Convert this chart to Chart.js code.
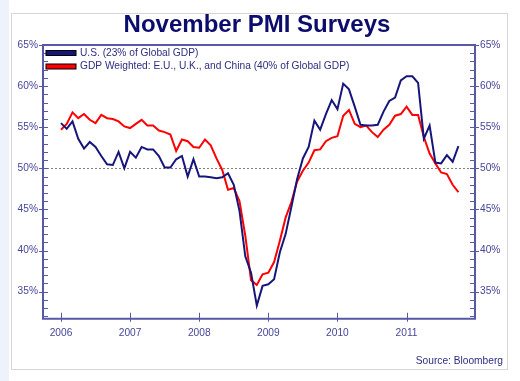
<!DOCTYPE html>
<html>
<head>
<meta charset="utf-8">
<title>November PMI Surveys</title>
<script src="https://cdn.jsdelivr.net/npm/chart.js@4.4.0/dist/chart.umd.min.js"></script>
<style>
  html, body { margin:0; padding:0; background:#ffffff; }
  #contenedor { position:relative; width:520px; height:381px; }
</style>
</head>
<body>
<div id="contenedor"><canvas id="grafica-pmi" width="520" height="381"></canvas></div>
<script>
// valores mensuales (un punto por mes desde ene 2006)
var anioInicio = 2006;
var usPMI = [
    55.5, 54.8, 55.7, 53.6, 52.4, 53.2, 52.6, 51.5, 50.5, 50.4, 52.0, 50.0,
    52.0, 51.3, 52.6, 52.3, 52.3, 51.5, 50.1, 50.1, 51.1, 51.5, 49.0, 51.1,
    49.0, 49.0, 48.9, 48.8, 48.9, 49.4, 48.0, 44.8, 39.3, 37.3, 33.3, 35.7,
    35.9, 36.5, 39.8, 42.0, 45.3, 48.7, 51.2, 52.6, 55.8, 54.7, 56.6, 58.3,
    57.2, 60.3, 59.6, 57.5, 55.3, 55.2, 55.2, 55.3, 56.9, 58.2, 58.6, 60.7,
    61.2, 61.2, 60.4, 53.6, 55.2, 50.7, 50.6, 51.6, 50.8, 52.7
];
var ponderadoPMI = [
    54.7, 55.4, 56.8, 56.1, 56.6, 55.9, 55.5, 56.5, 56.1, 56.0, 55.7, 55.1,
    54.9, 55.4, 55.9, 55.2, 55.2, 54.6, 54.4, 54.1, 52.1, 53.5, 53.3, 52.6,
    52.5, 53.5, 52.8, 51.2, 49.8, 47.4, 47.6, 46.0, 41.8, 36.4, 35.8, 37.1,
    37.3, 38.6, 41.2, 44.0, 45.9, 48.4, 49.7, 50.7, 52.2, 52.3, 53.3, 53.7,
    53.9, 56.4, 57.1, 55.4, 55.0, 55.2, 54.4, 53.8, 54.7, 55.3, 56.4, 56.6,
    57.5, 56.5, 56.5, 53.8, 51.8, 50.6, 49.5, 49.3, 48.0, 47.1
];
var etiquetasSeries = ['U.S. (23% of Global GDP)', 'GDP Weighted: E.U., U.K., and China (40% of Global GDP)'];
var coloresSeries = ['#16167a', '#ff0000'];
var anios = [2006, 2007, 2008, 2009, 2010, 2011];
var limitesX = [2005.74, 2011.99];
var limitesY = [31.7, 65];
var lineaReferencia = 50;

var colorEje = '#5858a8';
var colorTexto = '#45459a';
var fuente = "'Liberation Sans', Arial, sans-serif";
var tamTexto = 10.2;

function armarPuntos(valores){
    var puntos = [];
    for (var i = 0; i < valores.length; i++){
        puntos.push({x: anioInicio + i/12, y: valores[i]});
    }
    return puntos;
}

// fondo: franja azulada a la izquierda y recuadro blanco
var fondoPlugin = {
    id: 'fondo',
    beforeDraw: function(chart){
        var ctx = chart.ctx;
        ctx.save();
        ctx.fillStyle = '#ffffff';
        ctx.fillRect(0, 0, chart.width, chart.height);
        ctx.fillStyle = '#eef2fa';
        ctx.fillRect(0, 0, 9, chart.height);
        ctx.strokeStyle = '#d6d6d6';
        ctx.lineWidth = 1;
        ctx.strokeRect(11.5, 13.5, 496, 356);
        ctx.restore();
    }
};

// linea punteada en 50%
var referenciaPlugin = {
    id: 'referencia',
    beforeDatasetsDraw: function(chart){
        var ctx = chart.ctx;
        var area = chart.chartArea;
        var y = Math.round(chart.scales.y.getPixelForValue(lineaReferencia)) + 0.5;
        ctx.save();
        ctx.strokeStyle = '#808080';
        ctx.lineWidth = 1;
        ctx.setLineDash([2, 2]);
        ctx.beginPath();
        ctx.moveTo(area.left, y);
        ctx.lineTo(area.right, y);
        ctx.stroke();
        ctx.restore();
    }
};

// marco del area, marcas mayores/menores y la leyenda dentro del area
var marcoPlugin = {
    id: 'marco',
    afterDatasetsDraw: function(chart){
        var ctx = chart.ctx;
        var area = chart.chartArea;
        var escalaY = chart.scales.y;
        var escalaX = chart.scales.x;
        ctx.save();
        ctx.strokeStyle = colorEje;
        ctx.lineWidth = 1;
        for (var v = Math.ceil(limitesY[0]); v <= limitesY[1]; v++){
            var py = Math.round(escalaY.getPixelForValue(v)) + 0.5;
            var mayor = (v % 5 == 0);
            ctx.beginPath();
            ctx.moveTo(area.left - (mayor ? 4 : 0), py);
            ctx.lineTo(area.left + 5, py);
            ctx.moveTo(area.right - 5, py);
            ctx.lineTo(area.right + (mayor ? 4 : 0), py);
            ctx.stroke();
        }
        for (var i = 0; i < anios.length; i++){
            var px = Math.round(escalaX.getPixelForValue(anios[i])) + 0.5;
            ctx.beginPath();
            ctx.moveTo(px, area.bottom - 6);
            ctx.lineTo(px, area.bottom + 3);
            ctx.stroke();
        }
        ctx.lineWidth = 2;
        ctx.strokeRect(area.left, area.top, area.right - area.left, area.bottom - area.top);

        // leyenda
        var datasets = chart.data.datasets;
        ctx.font = tamTexto + 'px ' + fuente;
        ctx.textBaseline = 'middle';
        ctx.textAlign = 'left';
        for (var j = 0; j < datasets.length; j++){
            var cy = area.top + 8 + j*13.5;
            ctx.fillStyle = datasets[j].borderColor;
            ctx.fillRect(area.left + 3, cy - 2.5, 30, 5);
            ctx.strokeStyle = '#000000';
            ctx.lineWidth = 1;
            ctx.strokeRect(area.left + 3, cy - 2.5, 30, 5);
            ctx.fillStyle = '#2e2e80';
            ctx.fillText(datasets[j].label, area.left + 37, cy);
        }
        ctx.restore();
    }
};

var ctx = document.getElementById('grafica-pmi').getContext('2d');
var myChart = new Chart(ctx, {
    type: 'line',
    data: {
        datasets: [{
            label: etiquetasSeries[0],
            data: armarPuntos(usPMI),
            borderColor: coloresSeries[0],
            backgroundColor: coloresSeries[0],
            borderWidth: 2,
            pointRadius: 0,
            tension: 0
        }, {
            label: etiquetasSeries[1],
            data: armarPuntos(ponderadoPMI),
            borderColor: coloresSeries[1],
            backgroundColor: coloresSeries[1],
            borderWidth: 2,
            pointRadius: 0,
            tension: 0
        }]
    },
    options: {
        responsive: false,
        animation: false,
        devicePixelRatio: 1,
        layout: {
            padding: {left: 11, right: 17, top: 0, bottom: 0}
        },
        scales: {
            x: {
                type: 'linear',
                min: limitesX[0],
                max: limitesX[1],
                grid: {display: false, drawTicks: false},
                border: {display: false},
                afterFit: function(s){ s.height = 32; },
                ticks: {
                    stepSize: 1,
                    includeBounds: false,
                    autoSkip: false,
                    maxRotation: 0,
                    padding: 8,
                    color: colorTexto,
                    font: {family: fuente, size: tamTexto},
                    callback: function(value){
                        return anios.indexOf(value) >= 0 ? String(value) : '';
                    }
                }
            },
            y: {
                position: 'left',
                min: limitesY[0],
                max: limitesY[1],
                grid: {display: false, drawTicks: false},
                border: {display: false},
                afterFit: function(s){ s.width = 32; },
                ticks: {
                    stepSize: 5,
                    includeBounds: false,
                    padding: 5,
                    color: colorTexto,
                    font: {family: fuente, size: tamTexto},
                    callback: function(value){ return value + '%'; }
                }
            },
            y2: {
                position: 'right',
                min: limitesY[0],
                max: limitesY[1],
                grid: {display: false, drawTicks: false},
                border: {display: false},
                afterFit: function(s){ s.width = 28; },
                ticks: {
                    stepSize: 5,
                    includeBounds: false,
                    padding: 5,
                    color: colorTexto,
                    font: {family: fuente, size: tamTexto},
                    callback: function(value){ return value + '%'; }
                }
            }
        },
        plugins: {
            title: {
                display: true,
                text: 'November PMI Surveys',
                color: '#0c0c6c',
                font: {family: fuente, size: 24, weight: 'bold'},
                padding: {top: 11, bottom: 5.2}
            },
            subtitle: {
                display: true,
                text: 'Source: Bloomberg',
                position: 'bottom',
                align: 'end',
                color: '#2e2e80',
                font: {family: fuente, size: tamTexto},
                padding: {top: 4, bottom: 14}
            },
            legend: {display: false},
            tooltip: {enabled: false}
        }
    },
    plugins: [fondoPlugin, referenciaPlugin, marcoPlugin]
});
</script>
</body>
</html>
